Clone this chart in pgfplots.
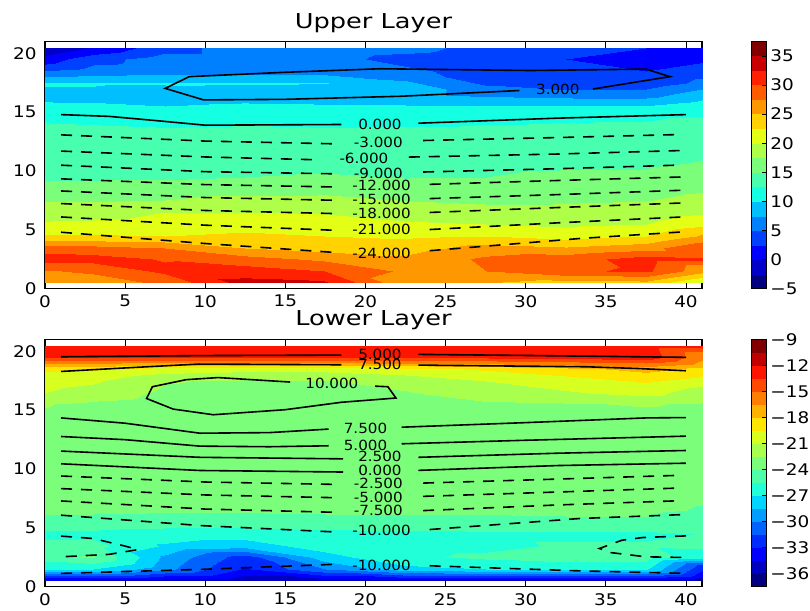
\documentclass[border=0pt]{standalone}
\usepackage{fontspec}
\setmainfont{DejaVu Sans}[FakeStretch=1.15]
\newfontfamily\titlefont{DejaVu Sans}[FakeStretch=1.25]
\newfontfamily\labfont{DejaVu Sans}[FakeStretch=1.08]
\usepackage{pgfplots}
\pgfplotsset{compat=1.18}

\pgfplotsset{
  colormap={jetup}{rgb255=(0,0,128) rgb255=(0,0,200) rgb255=(0,0,255) rgb255=(0,64,255)
    rgb255=(0,128,255) rgb255=(0,191,255) rgb255=(21,255,226) rgb255=(72,255,175)
    rgb255=(123,255,123) rgb255=(175,255,72) rgb255=(226,255,21) rgb255=(255,210,0)
    rgb255=(255,151,0) rgb255=(255,92,0) rgb255=(255,33,0) rgb255=(200,0,0)
    rgb255=(128,0,0)},
  colormap={jetlo}{rgb255=(0,0,128) rgb255=(0,0,192) rgb255=(0,0,255) rgb255=(0,43,255)
    rgb255=(0,99,255) rgb255=(0,156,255) rgb255=(0,213,255) rgb255=(32,255,215)
    rgb255=(78,255,169) rgb255=(123,255,123) rgb255=(169,255,78) rgb255=(215,255,32)
    rgb255=(255,230,0) rgb255=(255,177,0) rgb255=(255,125,0) rgb255=(255,72,0)
    rgb255=(255,20,0) rgb255=(192,0,0) rgb255=(128,0,0)},
  layer/.style={
    scale only axis, width=657pt, height=247pt,
    xmin=0, xmax=41, ymin=0, ymax=21,
    xtick={0,5,...,40}, ytick={0,5,...,20},
    tick align=inside, major tick length=6pt,
    every tick/.style={black, line width=0.9pt},
    axis line style={line width=1.1pt},
    tick label style={font=\fontsize{16}{16}\selectfont},
    /pgf/number format/assume math mode=true,
    xticklabel style={yshift=-3pt},
    yticklabel style={xshift=-5pt},
    title style={font=\titlefont\fontsize{20.5}{20.5}\selectfont,
      at={(0.5,1)}, anchor=base, yshift=7.4pt},
    colormap access=piecewise constant,
    colorbar,
  },
  cbar/.style={
    at={(parent axis.south east)}, anchor=south west, xshift=40.7pt,
    width=15.6pt, height=247.3pt,
    colormap access=piecewise constant,
    ytick pos=right, yticklabel pos=right,
    tick align=inside, major tick length=5pt,
    every tick/.style={black, line width=0.8pt},
    axis line style={line width=1pt},
    yticklabel style={font=\fontsize{16}{16}\selectfont},
  },
  cl/.style={black, line width=1.6pt, no markers},
  cld/.style={cl, dash pattern=on 11pt off 9pt},
  clab/.style={only marks, mark=*, mark size=0pt, mark options={draw=none, fill=none},
    point meta=explicit symbolic, nodes near coords, nodes near coords align={center},
    every node near coord/.append style={font=\labfont\fontsize{14}{14}\selectfont,
      anchor=center, inner sep=0pt, text=black}},
}

\begin{document}
\begin{tikzpicture}
\useasboundingbox (0,0) rectangle (810pt,610pt);

% ---------------- upper layer ----------------
\begin{axis}[layer, at={(45pt,321.3pt)}, anchor=south west,
  title={Upper Layer},
  colormap name=jetup, point meta min=-5, point meta max=37.5,
  colorbar style={cbar, ytick={-5,0,...,35}, yticklabels={−5,0,5,10,15,20,25,30,35}},
]
\addplot[matrix plot*, shader=interp, mesh/cols=9, point meta=explicit] coordinates {
(1,1)[26] (5,1)[26] (10,1)[28] (15,1)[33.5] (20,1)[33] (25,1)[25.5] (30,1)[25] (35,1)[24] (40,1)[24]
(1,2)[27] (5,2)[28] (10,2)[30.6] (15,2)[31.2] (20,2)[30] (25,2)[27] (30,2)[27.5] (35,2)[29.5] (40,2)[30.5]
(1,3)[30.7] (5,3)[31] (10,3)[29.8] (15,3)[28.5] (20,3)[27] (25,3)[25.5] (30,3)[28] (35,3)[29] (40,3)[31]
(1,4)[29] (5,4)[28.5] (10,4)[27.5] (15,4)[25] (20,4)[24] (25,4)[24] (30,4)[26] (35,4)[25.3] (40,4)[26.5]
(1,5)[23] (5,5)[22.8] (10,5)[22.5] (15,5)[23] (20,5)[22.5] (25,5)[22] (30,5)[22.5] (35,5)[21.5] (40,5)[22.5]
(1,6)[20.3] (5,6)[20.5] (10,6)[21] (15,6)[21.5] (20,6)[21] (25,6)[20.3] (30,6)[20] (35,6)[19.5] (40,6)[20]
(1,7)[18.8] (5,7)[19] (10,7)[20] (15,7)[20] (20,7)[19.8] (25,7)[19] (30,7)[18.5] (35,7)[18.2] (40,7)[18.5]
(1,8)[17.3] (5,8)[17.2] (10,8)[17.5] (15,8)[18.5] (20,8)[18.3] (25,8)[17.4] (30,8)[17] (35,8)[17.2] (40,8)[17.4]
(1,9)[15.8] (5,9)[15.8] (10,9)[16] (15,9)[16.3] (20,9)[16.6] (25,9)[16] (30,9)[16.2] (35,9)[16.5] (40,9)[16.6]
(1,10)[14.7] (5,10)[14.7] (10,10)[14.7] (15,10)[15] (20,10)[15.2] (25,10)[14.9] (30,10)[15] (35,10)[15.3] (40,10)[15.4]
(1,11)[14.3] (5,11)[14.2] (10,11)[14.4] (15,11)[14.5] (20,11)[14.6] (25,11)[14.7] (30,11)[14.7] (35,11)[14.8] (40,11)[14.8]
(1,12)[13.9] (5,12)[13.8] (10,12)[14] (15,12)[14] (20,12)[14.1] (25,12)[14.2] (30,12)[14.2] (35,12)[14.2] (40,12)[14.2]
(1,13)[13.5] (5,13)[13.4] (10,13)[13.5] (15,13)[13.5] (20,13)[13.6] (25,13)[13.7] (30,13)[13.7] (35,13)[13.6] (40,13)[13.6]
(1,14)[13] (5,14)[12.9] (10,14)[12.7] (15,14)[12.8] (20,14)[12.7] (25,14)[12.9] (30,14)[13] (35,14)[13] (40,14)[13.1]
(1,15)[12.2] (5,15)[12] (10,15)[11.8] (15,15)[12] (20,15)[11.5] (25,15)[11.5] (30,15)[12] (35,15)[12.2] (40,15)[12.3]
(1,16)[10.8] (5,16)[10.4] (10,16)[10] (15,16)[10.5] (20,16)[10.3] (25,16)[10.2] (30,16)[10.2] (35,16)[10.2] (40,16)[10.1]
(1,17)[9] (5,17)[9.2] (10,17)[8.5] (15,17)[8.7] (20,17)[8.5] (25,17)[8] (30,17)[7] (35,17)[6.5] (40,17)[6.5]
(1,18)[10.4] (5,18)[10.3] (10,18)[10.3] (15,18)[10.2] (20,18)[10.1] (25,18)[8] (30,18)[4.5] (35,18)[3] (40,18)[3.5]
(1,19)[4.8] (5,19)[6] (10,19)[6.5] (15,19)[6.5] (20,19)[6.3] (25,19)[5.5] (30,19)[4] (35,19)[3] (40,19)[2.5]
(1,20)[0.3] (5,20)[4] (10,20)[6.2] (15,20)[6.2] (20,20)[5.8] (25,20)[4.2] (30,20)[3.5] (35,20)[2.5] (40,20)[1.5]
};
% contour 3.000 (closed)
\addplot[cl] coordinates {(34.2,16.98) (39.0,18.03) (37.5,18.67) (30.3,18.55) (20.9,18.7) (15,18.4)
  (9,18.03) (7.5,17.03) (9.9,16.05) (15,16.1) (22.2,16.36) (29.6,16.85)};
% contour 0.000
\addplot[cl] coordinates {(1,14.8) (4,14.65) (6.86,14.3) (10,13.9) (18.5,13.96)};
\addplot[cl] coordinates {(23.3,14.07) (32,14.5) (40,14.8)};
% negative contours
\addplot[cld] coordinates {(1,13.08) (10,12.55) (18,12.32)};
\addplot[cld] coordinates {(23.6,12.6) (32,12.85) (39.4,13.1)};
\addplot[cld] coordinates {(1,11.7) (10,11.2) (17,10.96)};
\addplot[cld] coordinates {(22.7,11.19) (32,11.45) (39.8,11.75)};
\addplot[cld] coordinates {(1,10.5) (10,9.95) (18,9.77)};
\addplot[cld] coordinates {(23.6,9.92) (32,10.2) (39.4,10.5)};
\addplot[cld] coordinates {(1,9.34) (10,8.85) (18,8.65)};
\addplot[cld] coordinates {(24,8.87) (32,9.2) (39.8,9.5)};
\addplot[cld] coordinates {(1,8.31) (10,7.75) (18,7.52)};
\addplot[cld] coordinates {(24,7.66) (32,8.0) (39.8,8.37)};
\addplot[cld] coordinates {(1,7.24) (10,6.65) (18,6.39)};
\addplot[cld] coordinates {(24,6.48) (32,6.9) (39.8,7.29)};
\addplot[cld] coordinates {(1,6.1) (10,5.4) (18,4.97)};
\addplot[cld] coordinates {(24,5.03) (32,5.6) (39.8,6.1)};
\addplot[cld] coordinates {(1,4.8) (10,3.84) (17.9,3.1)};
\addplot[cld] coordinates {(24,3.23) (33.4,4.27) (39.8,4.83)};
% labels
\addplot[clab] coordinates {(32,16.92)[3.000] (20.9,13.93)[0.000] (20.8,12.4)[-3.000]
  (19.9,11.05)[-6.000] (20.8,9.83)[-9.000] (21,8.75)[-12.000] (21,7.57)[-15.000]
  (21,6.39)[-18.000] (21,5.0)[-21.000] (21,3.0)[-24.000]};
\end{axis}

% ---------------- lower layer ----------------
\begin{axis}[layer, at={(45pt,23.3pt)}, anchor=south west,
  title={Lower Layer}, title style={yshift=0.6pt},
  colormap name=jetlo, point meta min=-37.5, point meta max=-9,
  colorbar style={cbar, ytick={-36,-33,...,-9}, yticklabels={−36,−33,−30,−27,−24,−21,−18,−15,−12,−9}},
]
\addplot[matrix plot*, shader=interp, mesh/cols=9, point meta=explicit] coordinates {
(1,1)[-35.2] (5,1)[-35.2] (10,1)[-35.6] (15,1)[-35.8] (20,1)[-35.6] (25,1)[-35.3] (30,1)[-35.2] (35,1)[-35.2] (40,1)[-35.2]
(1,2)[-26.5] (5,2)[-27] (10,2)[-29.5] (15,2)[-33.2] (20,2)[-30] (25,2)[-27.5] (30,2)[-27] (35,2)[-26.8] (40,2)[-26.8]
(1,3)[-24.7] (5,3)[-23.8] (10,3)[-28.8] (15,3)[-32.3] (20,3)[-27.6] (25,3)[-25.8] (30,3)[-25.2] (35,3)[-24.6] (40,3)[-24.8]
(1,4)[-25.2] (5,4)[-25] (10,4)[-27.2] (15,4)[-27.8] (20,4)[-26.3] (25,4)[-26] (30,4)[-25.9] (35,4)[-25.3] (40,4)[-25.3]
(1,5)[-25.9] (5,5)[-25.9] (10,5)[-26.3] (15,5)[-26.3] (20,5)[-26] (25,5)[-25.9] (30,5)[-25.8] (35,5)[-25.8] (40,5)[-25.8]
(1,6)[-24.5] (5,6)[-24.6] (10,6)[-24.7] (15,6)[-24.7] (20,6)[-24.6] (25,6)[-24.6] (30,6)[-24.5] (35,6)[-24.4] (40,6)[-24.4]
(1,7)[-23.7] (5,7)[-23.7] (10,7)[-23.8] (15,7)[-23.8] (20,7)[-23.7] (25,7)[-23.7] (30,7)[-23.7] (35,7)[-23.6] (40,7)[-23.6]
(1,8)[-23.3] (5,8)[-23.3] (10,8)[-23.4] (15,8)[-23.4] (20,8)[-23.3] (25,8)[-23.3] (30,8)[-23.3] (35,8)[-23.3] (40,8)[-23.3]
(1,9)[-23.2] (5,9)[-23.3] (10,9)[-23.3] (15,9)[-23.3] (20,9)[-23.3] (25,9)[-23.2] (30,9)[-23.2] (35,9)[-23.2] (40,9)[-23.2]
(1,10)[-23.2] (5,10)[-23.2] (10,10)[-23.3] (15,10)[-23.3] (20,10)[-23.2] (25,10)[-23.2] (30,10)[-23.2] (35,10)[-23.2] (40,10)[-23.2]
(1,11)[-23.1] (5,11)[-23.2] (10,11)[-23.2] (15,11)[-23.3] (20,11)[-23.2] (25,11)[-23.1] (30,11)[-23.1] (35,11)[-23.1] (40,11)[-23.1]
(1,12)[-23.1] (5,12)[-23.2] (10,12)[-23.2] (15,12)[-23.2] (20,12)[-23.2] (25,12)[-23.1] (30,12)[-23.1] (35,12)[-23.1] (40,12)[-23.1]
(1,13)[-23.1] (5,13)[-23.1] (10,13)[-23.2] (15,13)[-23.2] (20,13)[-23.2] (25,13)[-23.1] (30,13)[-23] (35,13)[-23] (40,13)[-23]
(1,14)[-23] (5,14)[-23.1] (10,14)[-23.2] (15,14)[-23.2] (20,14)[-23.1] (25,14)[-23] (30,14)[-23] (35,14)[-23] (40,14)[-23]
(1,15)[-22.9] (5,15)[-23] (10,15)[-23.2] (15,15)[-23.2] (20,15)[-23.1] (25,15)[-23] (30,15)[-22.9] (35,15)[-22.9] (40,15)[-22.8]
(1,16)[-22.3] (5,16)[-22.8] (10,16)[-23.2] (15,16)[-23.3] (20,16)[-23.2] (25,16)[-22.8] (30,16)[-22.7] (35,16)[-22.6] (40,16)[-22.4]
(1,17)[-20.8] (5,17)[-21.6] (10,17)[-22.8] (15,17)[-23] (20,17)[-22.8] (25,17)[-22.6] (30,17)[-21.8] (35,17)[-21.2] (40,17)[-20.5]
(1,18)[-20.3] (5,18)[-20.8] (10,18)[-22.4] (15,18)[-22.7] (20,18)[-22.6] (25,18)[-22] (30,18)[-21] (35,18)[-20.2] (40,18)[-19.3]
(1,19)[-19.2] (5,19)[-19.3] (10,19)[-20.2] (15,19)[-20.5] (20,19)[-20.5] (25,19)[-20] (30,19)[-19.3] (35,19)[-18.5] (40,19)[-17.5]
(1,20)[-13] (5,20)[-13] (10,20)[-13] (15,20)[-13] (20,20)[-13] (25,20)[-13] (30,20)[-13] (35,20)[-12.8] (40,20)[-12.5]
};
% positive contours
\addplot[cl] coordinates {(1,19.55) (10,19.65) (18.5,19.69)};
\addplot[cl] coordinates {(23.3,19.75) (30,19.66) (40,19.5)};
\addplot[cl] coordinates {(1,18.3) (5,18.6) (9.6,18.93) (18.5,18.87)};
\addplot[cl] coordinates {(23.3,18.84) (33.75,18.7) (37,18.55) (40,18.36)};
\addplot[cl] coordinates {(20.6,17.05) (21.4,17.0) (21.9,16.04) (18.5,15.68) (15,15.05) (10.5,14.62)
  (8,15.1) (6.34,16.0) (6.7,17.0) (8.8,17.6) (10.8,17.78) (15.3,17.4)};
\addplot[cl] coordinates {(1,14.35) (5,13.9) (9.67,13.05) (14,13.1) (17.7,13.4)};
\addplot[cl] coordinates {(22.25,13.56) (30,13.95) (37.5,14.35) (40,14.38)};
\addplot[cl] coordinates {(1,12.77) (5,12.5) (9.67,11.95) (14,11.9) (17.7,11.98)};
\addplot[cl] coordinates {(22.25,12.15) (30,12.45) (40,12.8)};
\addplot[cl] coordinates {(1,11.53) (9.67,11.0) (18.6,10.87)};
\addplot[cl] coordinates {(23.3,11.0) (32,11.35) (40,11.58)};
\addplot[cl] coordinates {(1,10.45) (9.67,9.88) (18.6,9.75)};
\addplot[cl] coordinates {(23.3,9.89) (32,10.3) (40,10.5)};
% negative contours
\addplot[cld] coordinates {(1,9.41) (10,8.9) (18,8.7)};
\addplot[cld] coordinates {(23.6,8.81) (32,9.15) (39.4,9.46)};
\addplot[cld] coordinates {(1,8.34) (10,7.8) (18,7.57)};
\addplot[cld] coordinates {(23.6,7.68) (32,8.05) (39.4,8.38)};
\addplot[cld] coordinates {(1,7.29) (10,6.6) (18,6.33)};
\addplot[cld] coordinates {(23.6,6.47) (32,6.95) (39.4,7.3)};
\addplot[cld] coordinates {(1,6.08) (9.67,5.2) (18,4.66)};
\addplot[cld] coordinates {(24,4.86) (33.4,5.8) (40,6.14)};
\addplot[cld] coordinates {(1,1.13) (9.67,1.47) (18,1.9)};
\addplot[cld] coordinates {(24,1.78) (33,1.36) (40,1.13)};
\addplot[cld] coordinates {(1,4.3) (3,4.1) (5,3.45) (5.8,3.15) (4,2.75) (1,2.54)};
\addplot[cld] coordinates {(40,4.32) (37.3,4.18) (36,3.95) (34.6,3.25) (35.3,2.9) (37.5,2.54) (40,2.48)};
% labels
\addplot[clab] coordinates {(20.9,19.75)[5.000] (20.9,18.87)[7.500] (17.9,17.3)[10.000]
  (20,13.5)[7.500] (20,12.0)[5.000] (20.9,11.05)[2.500] (20.9,9.85)[0.000]
  (20.8,8.77)[-2.500] (20.8,7.62)[-5.000] (20.8,6.45)[-7.500] (21,4.8)[-10.000] (21,1.85)[-10.000]};
\end{axis}
\end{tikzpicture}
\end{document}
